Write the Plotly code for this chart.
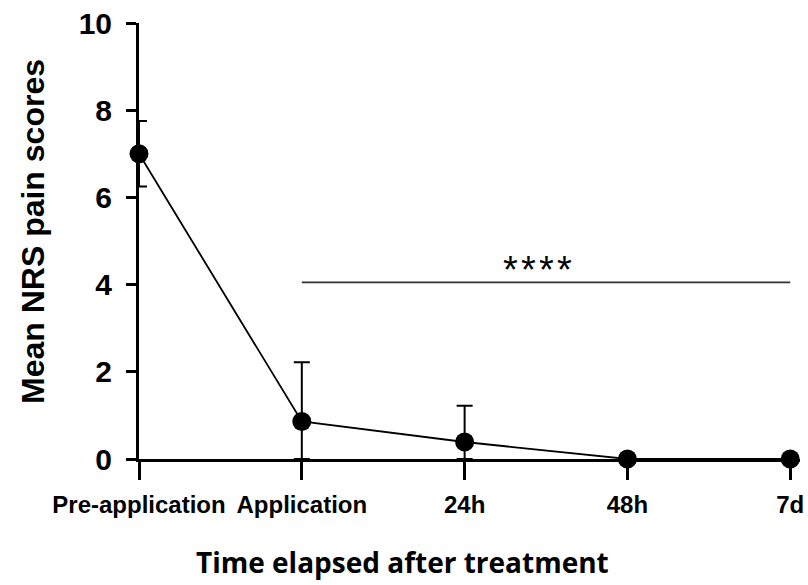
import plotly.graph_objects as go

categories = ["Pre-application", "Application", "24h", "48h", "7d"]
mean_scores = [7.0, 0.86, 0.39, 0.0, 0.0]
sd_scores = [0.75, 1.36, 0.83, 0.0, 0.0]
y_ticks = [0, 2, 4, 6, 8, 10]
sig_label = "*\u200a*\u200a*\u200a*"
sig_level = 4.05
sig_from, sig_to = 1, 4

xpos = list(range(len(categories)))
lower = [min(s, m) for s, m in zip(sd_scores, mean_scores)]

W, H = 808, 585
L, R, T, B = 139, 8, 23, 126

fig = go.Figure()
fig.add_trace(go.Scatter(
    x=xpos, y=mean_scores, mode="lines+markers",
    line=dict(color="black", width=1.8),
    marker=dict(color="black", size=19),
    error_y=dict(type="data", array=sd_scores, arrayminus=lower, symmetric=False,
                 color="black", thickness=2, width=8),
    cliponaxis=False, showlegend=False,
))

fig.add_shape(type="line", xref="x", yref="y", x0=sig_from, x1=sig_to, y0=sig_level, y1=sig_level,
              line=dict(color="#333333", width=1.6))
fig.add_annotation(x=2.45, y=sig_level, xref="x", yref="y", text=sig_label, showarrow=False,
                   yanchor="middle", yshift=12, font=dict(family="Liberation Sans", size=38, color="black"))

fig.add_annotation(xref="paper", yref="paper", x=0, y=0.5, xshift=-106, yshift=9,
                   text="Mean NRS pain scores", textangle=-90, showarrow=False,
                   xanchor="center", yanchor="middle",
                   font=dict(family="Liberation Sans", size=32, color="black", weight="bold"))
fig.add_annotation(xref="paper", yref="paper", x=0, y=0, xshift=402 - L, yshift=-(562 - 459),
                   text="Time elapsed after treatment", showarrow=False,
                   xanchor="center", yanchor="middle",
                   font=dict(family="Open Sans", size=28, color="black", weight="bold"))

fig.update_layout(
    width=W, height=H,
    margin=dict(l=L, r=R, t=T, b=B, autoexpand=False),
    plot_bgcolor="white", paper_bgcolor="white",
    xaxis=dict(range=[0, 4.06], tickvals=xpos, ticktext=categories,
               showline=True, linewidth=3, linecolor="black",
               ticks="outside", ticklen=18, tickwidth=3, tickcolor="black",
               showgrid=False, zeroline=False, ticklabelstandoff=4,
               ticklabeloverflow="allow", automargin=False,
               tickfont=dict(family="Liberation Sans", size=24, color="black", weight="bold")),
    yaxis=dict(range=[0, 10], tickvals=y_ticks,
               showline=True, linewidth=3, linecolor="black",
               ticks="outside", ticklen=10, tickwidth=3, tickcolor="black",
               showgrid=False, zeroline=False, ticklabelstandoff=8,
               ticklabeloverflow="allow", automargin=False,
               tickfont=dict(family="Liberation Sans", size=30, color="black", weight="bold")),
)

fig.write_html("out.html", config={"displayModeBar": False},
               post_script="document.body.style.margin='0';document.body.style.overflow='hidden';")
